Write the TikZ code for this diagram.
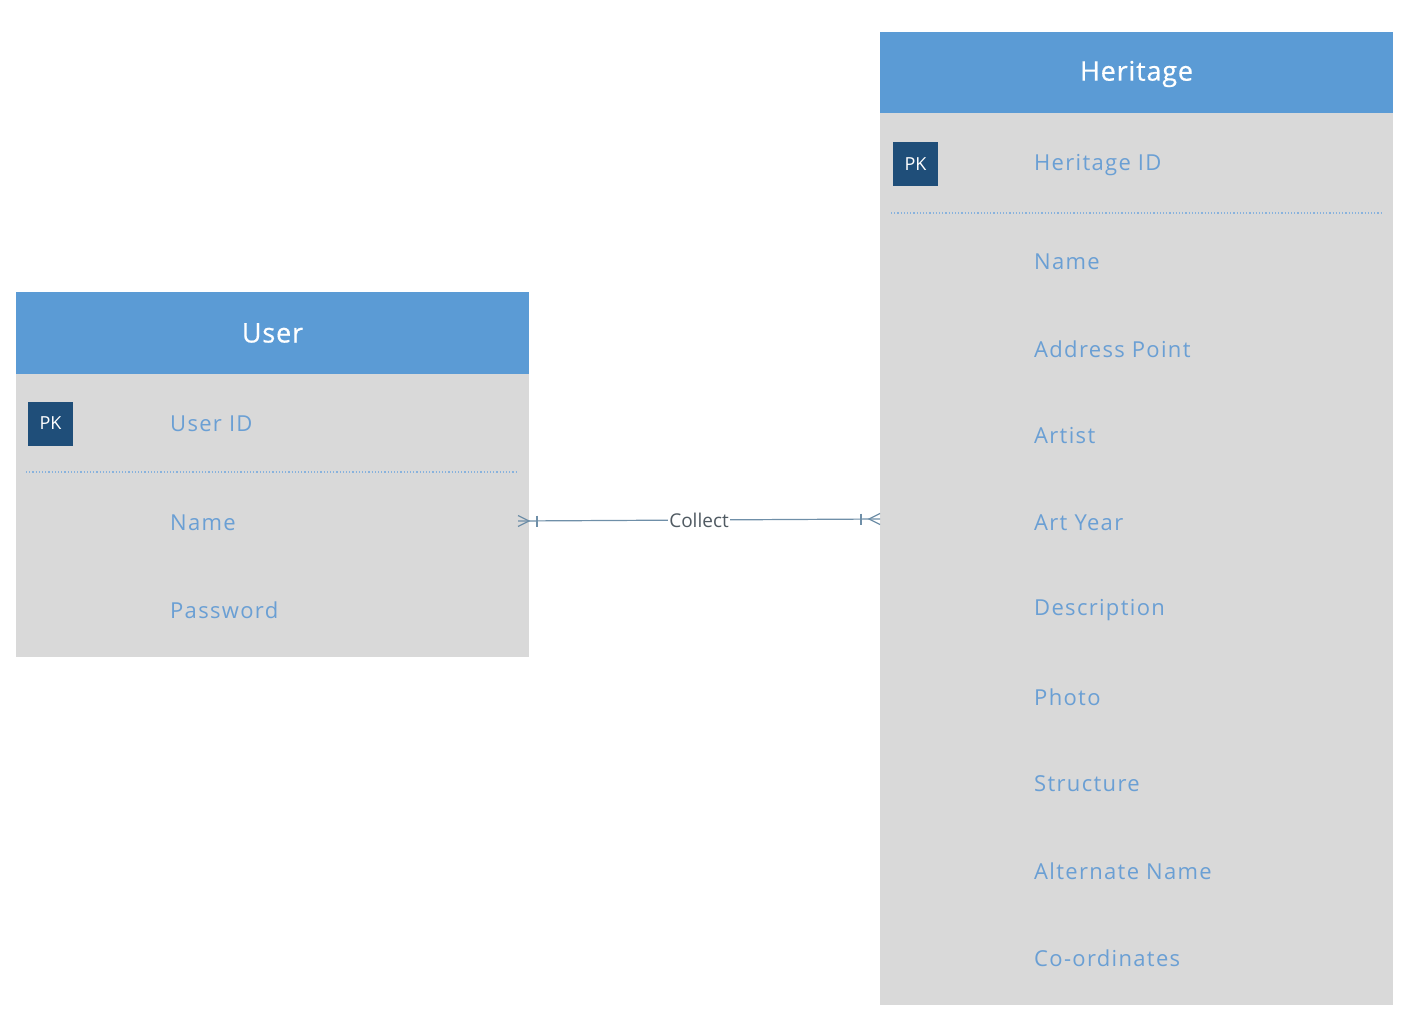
\documentclass[tikz,border=0pt]{standalone}
\usepackage{fontspec}
\setmainfont{Open Sans}
\newfontfamily\attrfont[LetterSpace=6]{Open Sans}
\newfontfamily\titlefont[LetterSpace=3,FakeBold=0.6]{Open Sans}
\definecolor{hdr}{HTML}{5B9BD5}
\definecolor{body}{HTML}{D9D9D9}
\definecolor{pkc}{HTML}{1F4E79}
\definecolor{attr}{HTML}{6A9FD4}
\definecolor{conn}{HTML}{6F8FA8}
\definecolor{lbl}{HTML}{505A62}
\begin{document}
\begin{tikzpicture}[x=1pt,y=-1pt,
  header/.style={fill=hdr,draw=none},
  bodybox/.style={fill=body,draw=none},
  title/.style={text=white,font=\titlefont\fontsize{27}{32}\selectfont},
  attrtext/.style={text=attr,anchor=west,inner sep=0pt,font=\attrfont\fontsize{22}{26}\selectfont},
  pkbox/.style={fill=pkc,text=white,minimum width=45pt,minimum height=44pt,inner sep=0pt,font=\fontsize{18}{21}\selectfont},
  sep/.style={draw=attr!80,dotted,line width=1.2pt},
  rel/.style={draw=conn,line width=1.2pt},
  rellabel/.style={fill=white,text=lbl,inner sep=1pt,font=\fontsize{19}{22}\selectfont}]
\useasboundingbox (0,0) rectangle (1416,1024);
% User entity
\fill[bodybox] (16,374) rectangle (529,657);
\fill[header] (16,292) rectangle (529,374);
\node[title] (utitle) at (272.5,333) {User};
\node[pkbox] (upk) at (50.5,423.5) {PK};
\node[attrtext] (uid) at (170,424) {User ID};
\draw[sep] (26,472) -- (518,472);
\node[attrtext] (uname) at (170,523) {Name};
\node[attrtext] (upass) at (170,610) {Password};
% Heritage entity
\fill[bodybox] (880,113) rectangle (1393,1005);
\fill[header] (880,32) rectangle (1393,113);
\node[title] (htitle) at (1136.5,74) {Heritage};
\node[pkbox] (hpk) at (915.5,164) {PK};
\node[attrtext] (hid) at (1034,165) {Heritage ID};
\draw[sep] (891,213) -- (1382,213);
\node[attrtext] (h1) at (1034,262) {Name};
\node[attrtext] (h2) at (1034,349) {Address Point};
\node[attrtext] (h3) at (1034,436) {Artist};
\node[attrtext] (h4) at (1034,523) {Art Year};
\node[attrtext] (h5) at (1034,610) {Description};
\node[attrtext] (h6) at (1034,697) {Photo};
\node[attrtext] (h7) at (1034,784) {Structure};
\node[attrtext] (h8) at (1034,871) {Alternate Name};
\node[attrtext] (h9) at (1034,958) {Co-ordinates};
% Relationship
\coordinate (ua) at (518,521);
\coordinate (ha) at (880,519);
\draw[rel] (ua) -- node[rellabel] (collect) {Collect} (ha);
\draw[rel] (518,515.5) -- (529,521) -- (518,526.5);
\draw[rel] (537,515.5) -- (537,526.5);
\draw[rel] (880,513.5) -- (869,519) -- (880,524.5);
\draw[rel] (861,513.5) -- (861,524.5);
\end{tikzpicture}
\end{document}
